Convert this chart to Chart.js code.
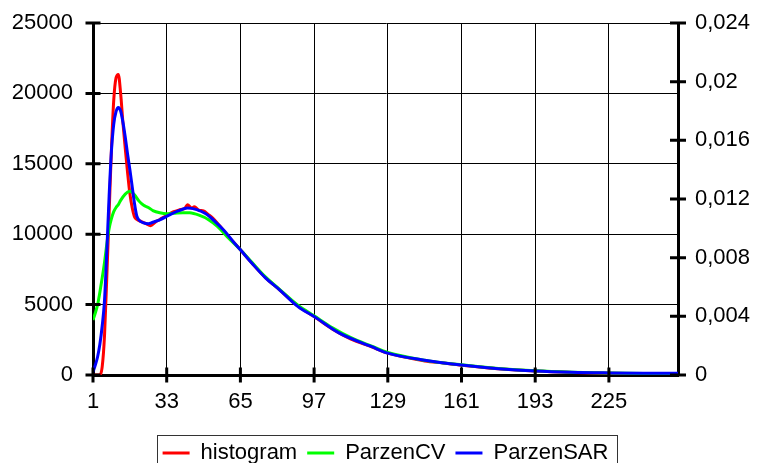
<!DOCTYPE html>
<html>
<head>
<meta charset="utf-8">
<script src="https://cdn.jsdelivr.net/npm/chart.js@4"></script>
<style>
  html, body { margin: 0; padding: 0; background: #fff; }
</style>
</head>
<body>
<canvas id="chart" width="757" height="463"></canvas>
<script>
// tick labels
const xTicks = [1, 33, 65, 97, 129, 161, 193, 225];
const leftTicks = [0, 5000, 10000, 15000, 20000, 25000];
const rightTicks = [0, 0.004, 0.008, 0.012, 0.016, 0.02, 0.024];
const rightTickLabels = ['0', '0,004', '0,008', '0,012', '0,016', '0,02', '0,024'];

// histogram (red)
const histX = [1, 4, 5, 6, 7, 8, 9, 10, 11, 12, 13, 14, 15, 16, 17, 18, 19, 20, 22, 24, 26, 28, 30, 33, 36, 39, 41, 42, 44, 45, 47, 49, 51, 53, 56, 60, 65, 70, 76, 82, 90, 97, 105, 113, 122, 129, 137, 145, 153, 161, 177, 193, 209, 225, 240, 255];
const histY = [0, 0, 600, 2800, 7000, 11500, 16000, 19500, 21100, 21350, 20000, 17900, 16100, 14400, 12900, 11900, 11250, 11050, 10900, 10750, 10600, 10850, 11050, 11350, 11600, 11750, 11850, 12100, 11850, 11950, 11700, 11650, 11400, 11150, 10600, 9800, 8900, 7950, 6900, 6050, 4900, 4150, 3250, 2550, 2000, 1550, 1250, 1000, 850, 700, 450, 280, 180, 120, 80, 50];

// ParzenCV (green)
const cvX = [1, 2, 3, 4, 5, 6, 7, 8, 9, 10, 11, 12, 13, 15, 17, 19, 21, 23, 25, 27, 30, 33, 36, 40, 43, 47, 51, 55, 60, 65, 70, 76, 82, 90, 97, 105, 113, 122, 129, 145, 161, 177, 193, 209, 225, 240, 255];
const cvY = [3900, 4400, 5000, 5900, 6900, 8000, 9300, 10400, 11100, 11600, 11900, 12100, 12400, 12850, 13050, 12800, 12350, 12050, 11900, 11680, 11520, 11450, 11480, 11530, 11520, 11350, 11050, 10550, 9700, 8900, 8000, 6950, 6080, 4950, 4200, 3350, 2650, 2050, 1600, 1050, 720, 470, 300, 200, 140, 100, 70];

// ParzenSAR (blue)
const sarX = [1, 2, 3, 4, 5, 6, 7, 8, 9, 10, 11, 12, 13, 14, 15, 16, 17, 18, 19, 20, 21, 23, 25, 27, 30, 34, 38, 42, 46, 50, 54, 58, 62, 65, 70, 76, 82, 90, 97, 108, 122, 129, 145, 161, 177, 193, 209, 225, 240, 255];
const sarY = [200, 700, 1300, 2200, 3500, 5300, 8800, 12700, 15900, 17800, 18700, 19000, 18750, 17950, 16900, 15700, 14600, 13400, 12200, 11300, 11000, 10800, 10740, 10850, 11020, 11350, 11650, 11860, 11750, 11450, 10900, 10250, 9450, 8890, 7940, 6880, 6050, 4860, 4150, 2970, 2010, 1550, 1050, 710, 450, 280, 190, 150, 130, 120];

const font = { family: "'Liberation Sans', Arial, sans-serif", size: 22 };

function points(xs, ys) {
  return xs.map((x, i) => ({ x: x, y: ys[i] }));
}

// thick tick marks crossing the axis lines
const tickMarks = {
  id: 'tickMarks',
  afterDraw(chart) {
    const ctx = chart.ctx;
    const { x, y, y2 } = chart.scales;
    const area = chart.chartArea;
    ctx.save();
    ctx.strokeStyle = '#000';
    ctx.lineWidth = 3;
    ctx.beginPath();
    x.ticks.forEach(t => {
      const px = x.getPixelForValue(t.value);
      ctx.moveTo(px, area.bottom - 7.5);
      ctx.lineTo(px, area.bottom + 7.5);
    });
    y.ticks.forEach(t => {
      const py = y.getPixelForValue(t.value);
      ctx.moveTo(area.left - 7.5, py);
      ctx.lineTo(area.left + 7.5, py);
    });
    y2.ticks.forEach(t => {
      const py = y2.getPixelForValue(t.value);
      ctx.moveTo(area.right - 8, py);
      ctx.lineTo(area.right + 8, py);
    });
    ctx.stroke();
    ctx.restore();
  }
};

// frame around the legend
const legendFrame = {
  id: 'legendFrame',
  afterDraw(chart) {
    const boxes = chart.legend.legendHitBoxes;
    if (!boxes || !boxes.length) return;
    const first = boxes[0];
    const last = boxes[boxes.length - 1];
    const left = Math.round(first.left - 6);
    const right = Math.round(last.left + last.width + 9);
    const top = Math.round(chart.legend.top + 3);
    const ctx = chart.ctx;
    ctx.save();
    ctx.strokeStyle = '#333';
    ctx.lineWidth = 1;
    ctx.strokeRect(left + 0.5, top + 0.5, right - left, 40);
    ctx.restore();
  }
};

// no label overflow padding on the axes, the layout padding handles it
function noPad(s) {
  s.paddingTop = 0;
  s.paddingBottom = 0;
  s.paddingLeft = 0;
  s.paddingRight = 0;
}

const chart = new Chart(document.getElementById('chart'), {
  type: 'line',
  data: {
    datasets: [
      { label: 'histogram', data: points(histX, histY), borderColor: '#ff0000', backgroundColor: '#ff0000', order: 3 },
      { label: 'ParzenCV', data: points(cvX, cvY), borderColor: '#00ff00', backgroundColor: '#00ff00', order: 2 },
      { label: 'ParzenSAR', data: points(sarX, sarY), borderColor: '#0000ff', backgroundColor: '#0000ff', order: 1 }
    ]
  },
  options: {
    responsive: false,
    animation: false,
    devicePixelRatio: 1,
    layout: { padding: { top: 23, bottom: 0, left: 0, right: 0 } },
    elements: {
      point: { radius: 0, borderWidth: 3 },
      line: { borderWidth: 3, cubicInterpolationMode: 'monotone', fill: false }
    },
    scales: {
      x: {
        type: 'linear',
        min: 1,
        max: 255,
        afterBuildTicks: s => { s.ticks = xTicks.map(v => ({ value: v })); },
        afterFit: s => { s.height = 57; noPad(s); },
        ticks: { font: font, color: '#000', padding: 14, maxRotation: 0, callback: v => String(v) },
        grid: { color: '#000', lineWidth: 1, drawTicks: false },
        border: { color: '#000', width: 3 }
      },
      y: {
        position: 'left',
        min: 0,
        max: 25000,
        afterBuildTicks: s => { s.ticks = leftTicks.map(v => ({ value: v })); },
        afterFit: s => { s.width = 93; noPad(s); },
        ticks: { font: font, color: '#000', padding: 20, callback: v => String(v) },
        grid: { color: '#000', lineWidth: 1, drawTicks: false },
        border: { color: '#000', width: 3 }
      },
      y2: {
        position: 'right',
        min: 0,
        max: 0.024,
        afterBuildTicks: s => { s.ticks = rightTicks.map(v => ({ value: v })); },
        afterFit: s => { s.width = 79; noPad(s); },
        ticks: { font: font, color: '#000', padding: 17, callback: (v, i) => rightTickLabels[i] },
        grid: { display: false, drawTicks: false },
        border: { color: '#000', width: 3 }
      }
    },
    plugins: {
      legend: {
        position: 'bottom',
        fullSize: false,
        maxHeight: 31,
        labels: {
          font: font,
          color: '#000',
          usePointStyle: true,
          pointStyle: 'line',
          pointStyleWidth: 27,
          padding: 10,
          sort: (a, b) => a.datasetIndex - b.datasetIndex
        }
      },
      tooltip: { enabled: false }
    }
  },
  plugins: [tickMarks, legendFrame]
});
</script>
</body>
</html>
